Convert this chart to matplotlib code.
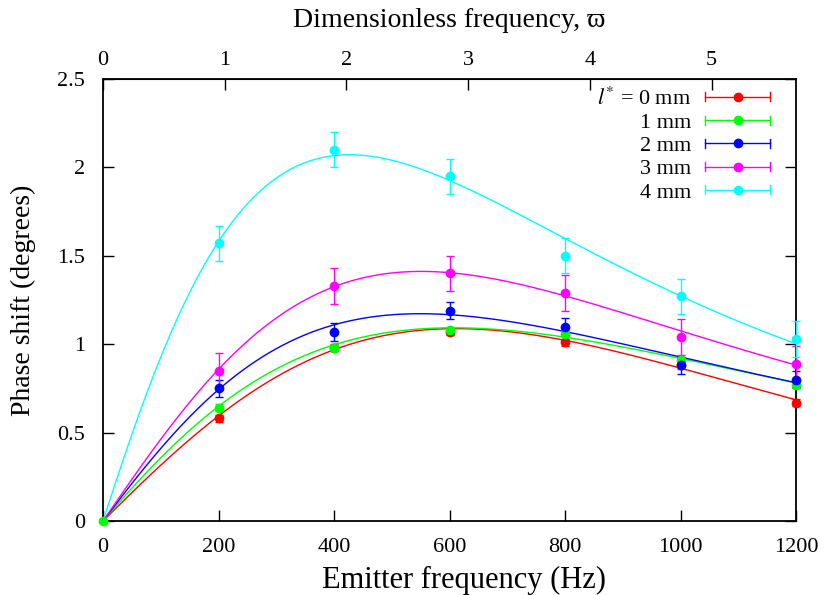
import numpy as np
import matplotlib
matplotlib.use('Agg')
import matplotlib.pyplot as plt
from matplotlib.legend_handler import HandlerLine2D
from matplotlib.lines import Line2D

plt.rcParams['font.family'] = ['Liberation Serif', 'DejaVu Serif']
plt.rcParams['mathtext.fontset'] = 'stix'

# ---- data ----
freq = [200, 400, 600, 800, 1000, 1200]
freq_1mm = [0, 200, 400, 600, 800, 1000, 1200]
phase_0mm = [0.58, 0.98, 1.07, 1.01, 0.88, 0.67]
phase_1mm = [0.0, 0.64, 0.98, 1.08, 1.06, 0.91, 0.77]
phase_2mm = [0.75, 1.07, 1.19, 1.10, 0.88, 0.80]
phase_3mm = [0.85, 1.33, 1.40, 1.29, 1.04, 0.89]
phase_4mm = [1.57, 2.10, 1.95, 1.50, 1.27, 1.03]
err_0mm = [0.02] * 6
err_1mm = [0.0] + [0.02] * 6
err_2mm = [0.05] * 6
err_3mm = [0.10] * 6
err_4mm = [0.10] * 6
labels = [r'$l^{*}$ = 0 mm', '1 mm', '2 mm', '3 mm', '4 mm']
colors = ['#ff0000', '#00ff00', '#0000ff', '#ff00ff', '#00ffff']
x_ticks = [0, 200, 400, 600, 800, 1000, 1200]
y_ticks = [0, 0.5, 1, 1.5, 2, 2.5]
y_tick_labels = ['0', '0.5', '1', '1.5', '2', '2.5']
varpi_ticks = [0, 1, 2, 3, 4, 5]
HZ_PER_VARPI = 210.8

# fitted-curve parameters, phi = A*f / (1 + (f/c)**n)**m  (estimated from the reference curves)
fit_A = [0.003236, 0.003781, 0.004299, 0.004761, 0.010070]
fit_c = [1685, 1555, 900, 895, 790]
fit_n = [1.8, 1.5, 1.7, 1.9, 1.6]
fit_m = [4.00, 3.40, 1.95, 1.85, 2.30]

fig = plt.figure(figsize=(8.24, 5.95), dpi=100)
ax = fig.add_axes([103 / 824, 1 - 521 / 595, 693 / 824, 442 / 595])

series = [(freq, phase_0mm, err_0mm), (freq_1mm, phase_1mm, err_1mm), (freq, phase_2mm, err_2mm),
          (freq, phase_3mm, err_3mm), (freq, phase_4mm, err_4mm)]
xx = np.linspace(0, 1200, 500)
for k, ((fx, fy, fe), col) in enumerate(zip(series, colors)):
    yy = fit_A[k] * xx / (1 + (xx / fit_c[k]) ** fit_n[k]) ** fit_m[k]
    ax.plot(xx, yy, color=col, lw=1.0)
    ax.errorbar(fx, fy, yerr=fe, fmt='o', color=col, ms=6, capsize=2.8, elinewidth=1.0,
                capthick=1.0, clip_on=False, zorder=3)

ax.set_xlim(0, 1200)
ax.set_ylim(0, 2.5)
ax.set_xticks(x_ticks)
ax.set_yticks(y_ticks)
ax.set_yticklabels(y_tick_labels)
ax.tick_params(direction='in', length=8, width=1.0, labelsize=16, top=False, right=True, pad=12)
ax.tick_params(axis='y', pad=13)
for s in ax.spines.values():
    s.set_linewidth(1.3)
ax.set_xlabel('Emitter frequency (Hz)', fontsize=22, labelpad=7, x=0.521)
ax.set_ylabel('Phase shift (degrees)', fontsize=20, labelpad=15)

sec = ax.secondary_xaxis('top', functions=(lambda f: f / HZ_PER_VARPI, lambda w: w * HZ_PER_VARPI))
sec.set_xticks(varpi_ticks)
sec.tick_params(direction='in', length=8, width=1.0, labelsize=16, pad=6.5)
sec.set_xlabel('Dimensionless frequency, \u03d6', fontsize=20, labelpad=17)


class CapHandler(HandlerLine2D):
    def create_artists(self, legend, orig_handle, xdescent, ydescent, width, height, fontsize, trans):
        arts = super().create_artists(legend, orig_handle, xdescent, ydescent, width, height, fontsize, trans)
        yc = height / 2 - ydescent
        h = 0.2 * fontsize
        for xe in (-xdescent, width - xdescent):
            cap = Line2D([xe, xe], [yc - h, yc + h], color=orig_handle.get_color(), lw=1.0, transform=trans)
            arts.append(cap)
        return arts

handles = [Line2D([], [], color=c, lw=1.0, marker='o', ms=6) for c in colors]
leg = ax.legend(handles, labels, loc='upper right', frameon=False, markerfirst=False, fontsize=16,
                handlelength=2.9, numpoints=1, handletextpad=0.63, labelspacing=0.12,
                bbox_to_anchor=(0.991, 1.026), handler_map={Line2D: CapHandler()})

fig.savefig('out.png', dpi=100)
